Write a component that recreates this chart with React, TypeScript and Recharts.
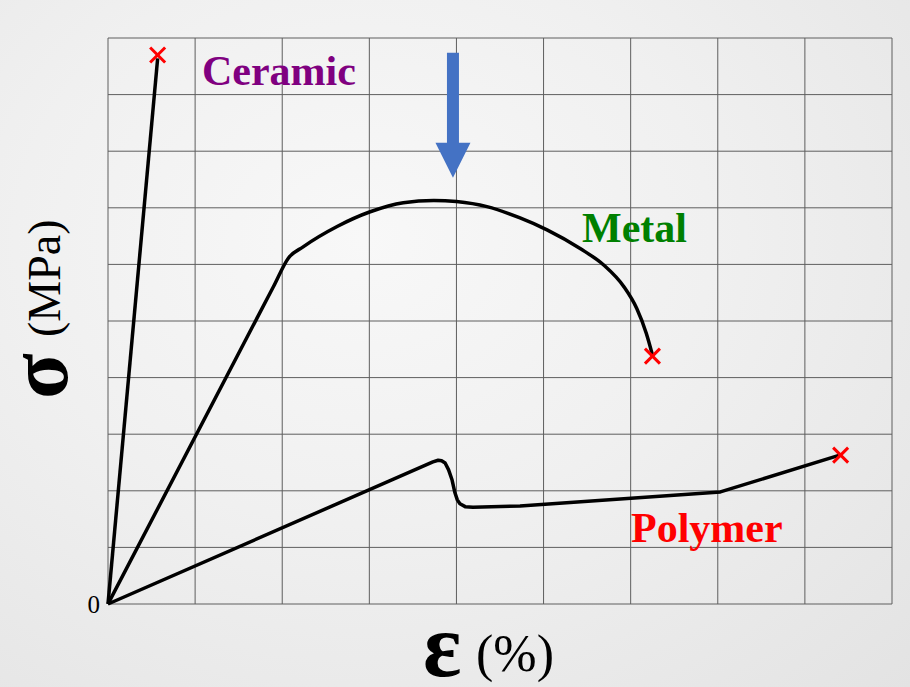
import { CartesianGrid, ComposedChart, Line, Scatter, XAxis, YAxis } from "recharts"

// strain in grid columns (0-9), stress in grid rows (0-10)
const ceramic = [
	{ x: 0, y: 0 },
	{ x: 0.57, y: 9.64 },
]

const metal = [
	{ x: 0, y: 0 },
	{ x: 1.9, y: 5.61 },
	{ x: 2.07, y: 6.11 },
	{ x: 2.24, y: 6.31 },
	{ x: 2.63, y: 6.67 },
	{ x: 3.01, y: 6.93 },
	{ x: 3.39, y: 7.09 },
	{ x: 3.74, y: 7.13 },
	{ x: 4.0, y: 7.11 },
	{ x: 4.35, y: 7.02 },
	{ x: 4.73, y: 6.82 },
	{ x: 5.04, y: 6.61 },
	{ x: 5.42, y: 6.28 },
	{ x: 5.69, y: 5.99 },
	{ x: 5.92, y: 5.61 },
	{ x: 6.07, y: 5.22 },
	{ x: 6.18, y: 4.78 },
	{ x: 6.25, y: 4.4 },
]

const polymer = [
	{ x: 0, y: 0 },
	{ x: 3.73, y: 2.51 },
	{ x: 3.79, y: 2.54 },
	{ x: 3.83, y: 2.53 },
	{ x: 3.87, y: 2.49 },
	{ x: 3.91, y: 2.37 },
	{ x: 3.95, y: 2.19 },
	{ x: 3.98, y: 1.98 },
	{ x: 4.01, y: 1.84 },
	{ x: 4.04, y: 1.77 },
	{ x: 4.1, y: 1.72 },
	{ x: 4.19, y: 1.71 },
	{ x: 4.73, y: 1.73 },
	{ x: 7.03, y: 1.98 },
	{ x: 8.4, y: 2.63 },
]

const fractures = [
	{ x: 0.57, y: 9.7 },
	{ x: 6.25, y: 4.38 },
	{ x: 8.41, y: 2.63 },
]

// arrow tip, pointing down at the metal's max stress
const arrowTip = [{ x: 3.96, y: 7.53 }]

const xTicks = [0, 1, 2, 3, 4, 5, 6, 7, 8, 9]
const yTicks = [0, 1, 2, 3, 4, 5, 6, 7, 8, 9, 10]

const serif = "'Liberation Serif', 'Times New Roman', serif"

const pageStyle = {
	position: "absolute" as const,
	left: 0,
	top: 0,
	width: 910,
	height: 687,
	background: "radial-gradient(ellipse at 40% 35%, #f8f8f8 0%, #f0f0f0 45%, #e3e3e3 100%)",
	fontFamily: serif,
}
const overlayStyle = { position: "absolute" as const, left: 0, top: 0, pointerEvents: "none" as const }
const chartMargin = { top: 38, right: 18, left: 48, bottom: 53 }
const tickStyle = { fill: "#000", fontSize: 25, fontFamily: serif }

function Cross(props: any) {
	const { cx, cy } = props
	const s = 7.5
	return (
		<g stroke="#ff0000" strokeWidth={3}>
			<line x1={cx - s} y1={cy - s} x2={cx + s} y2={cy + s} />
			<line x1={cx - s} y1={cy + s} x2={cx + s} y2={cy - s} />
		</g>
	)
}

function Arrow(props: any) {
	const { cx, cy } = props
	// tip at (cx, cy)
	const d = `M${cx},${cy} L${cx - 17.5},${cy - 35} L${cx - 6},${cy - 35} L${cx - 6},${cy - 125} L${cx + 6},${cy - 125} L${cx + 6},${cy - 35} L${cx + 17.5},${cy - 35} Z`
	return <path d={d} fill="#4472c4" />
}

export default function App() {
	return (
		<div style={pageStyle}>
			<ComposedChart width={910} height={687} margin={chartMargin}>
				<CartesianGrid stroke="#5e5e5e" strokeWidth={1} fill="none" />
				<XAxis
					dataKey="x"
					type="number"
					domain={[0, 9]}
					ticks={xTicks}
					tickFormatter={() => ""}
					tickLine={false}
					axisLine={false}
					height={30}
				/>
				<YAxis
					type="number"
					domain={[0, 10]}
					ticks={yTicks}
					width={60}
					tickLine={false}
					axisLine={false}
					tickFormatter={(v) => (v === 0 ? "0" : "")}
					tick={tickStyle}
				/>
				<Line data={ceramic} dataKey="y" type="linear" stroke="#000" strokeWidth={3.5} dot={false} isAnimationActive={false} />
				<Line data={metal} dataKey="y" type="monotone" stroke="#000" strokeWidth={3.5} strokeLinejoin="round" dot={false} isAnimationActive={false} />
				<Line data={polymer} dataKey="y" type="linear" stroke="#000" strokeWidth={3.5} strokeLinejoin="round" dot={false} isAnimationActive={false} />
				<Scatter data={fractures} dataKey="y" shape={Cross} isAnimationActive={false} />
				<Scatter data={arrowTip} dataKey="y" shape={Arrow} isAnimationActive={false} />
			</ComposedChart>

			<svg width={910} height={687} style={overlayStyle}>
				<g fontFamily={serif} fontWeight="bold" fontSize={42}>
					<text x={202} y={85} fill="#800080">Ceramic</text>
					<text x={582} y={242} fill="#008000">Metal</text>
					<text x={631} y={542} fill="#ff0000">Polymer</text>
				</g>
				{/* axis titles */}
				<text transform="translate(67,399) rotate(-90)" fontFamily={serif} fontWeight="bold" fontSize={84}>σ</text>
				<text transform="translate(60,337) rotate(-90)" fontFamily={serif} fontSize={46}>(MPa)</text>
				<text x={423} y={676} fontFamily={serif} fontWeight="bold" fontSize={90}>ε</text>
				<text x={476} y={671} fontFamily={serif} fontSize={52}>(%)</text>
			</svg>
		</div>
	)
}
